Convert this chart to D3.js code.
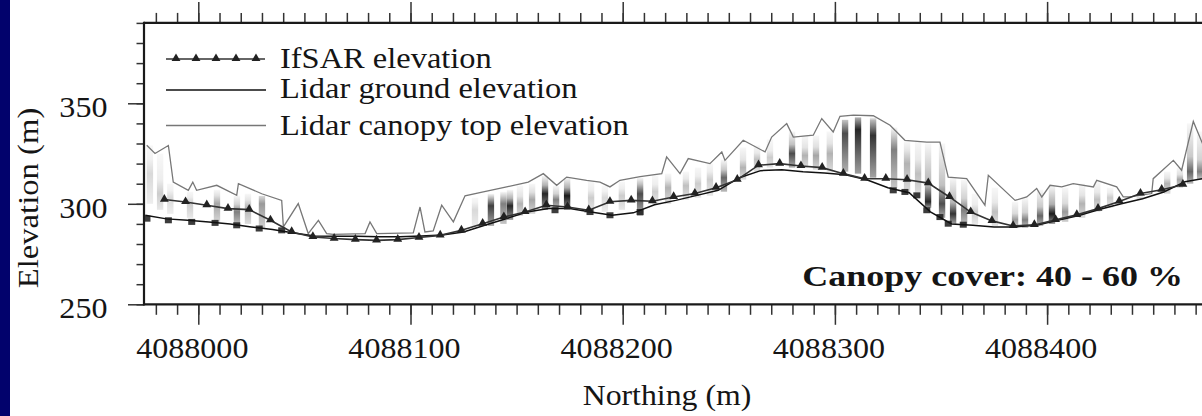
<!DOCTYPE html>
<html>
<head>
<meta charset="utf-8">
<script src="https://cdn.jsdelivr.net/npm/d3@7"></script>
<style>
  body { margin: 0; background: #fff; }
  svg { display: block; }
  text { font-family: "Liberation Serif", "Times New Roman", serif; fill: #151515; }
</style>
</head>
<body>
<svg id="chart" width="1202" height="416"></svg>
<script>
// IfSAR elevation, one sample every 10 m
var ifsarN = [4087984, 4087994, 4088004, 4088014, 4088024, 4088034, 4088044, 4088054, 4088064, 4088074,
  4088084, 4088094, 4088104, 4088114, 4088124, 4088134, 4088144, 4088154, 4088164, 4088174,
  4088184, 4088194, 4088204, 4088214, 4088224, 4088234, 4088244, 4088254, 4088264, 4088274,
  4088284, 4088294, 4088304, 4088314, 4088324, 4088334, 4088344, 4088354, 4088364, 4088374,
  4088384, 4088394, 4088404, 4088414, 4088424, 4088434, 4088444, 4088454, 4088464]
var ifsarZ = [302.1, 300.9, 299.3, 297.6, 297.1, 291.8, 286, 283.5, 282.7, 282.2,
  281.8, 282.2, 283.2, 284.3, 286.8, 290.1, 293.4, 295.9, 299.3, 298.4,
  296.8, 301, 301.7, 301.3, 303.4, 305.1, 308, 312, 319.2, 320,
  318.8, 318, 315, 312.5, 312.5, 312, 310.3, 303.4, 295.9, 291.5,
  289, 289.5, 292, 294.5, 297.6, 301.2, 305.1, 307, 309.5]

// Lidar ground elevation
var groundN = [4087975, 4087985, 4087995, 4088005, 4088015, 4088025, 4088035, 4088045, 4088055, 4088065,
  4088075, 4088085, 4088095, 4088105, 4088115, 4088125, 4088135, 4088145, 4088155, 4088165,
  4088175, 4088185, 4088195, 4088205, 4088215, 4088225, 4088235, 4088245, 4088255, 4088265,
  4088275, 4088285, 4088295, 4088305, 4088315, 4088325, 4088335, 4088345, 4088355, 4088365,
  4088375, 4088385, 4088395, 4088405, 4088415, 4088425, 4088435, 4088445, 4088455, 4088465, 4088475]
var groundZ = [294.3, 292.5, 291.8, 291, 290, 288.5, 287.2, 285.5, 284, 283.8,
  283.8, 283.6, 283.6, 284, 284.5, 286, 289.3, 292.6, 295.9, 297.6,
  297.6, 295.9, 294.3, 295.5, 299.5, 301.7, 304.2, 306.7, 313, 316.5,
  317, 316, 315.3, 314.5, 312, 308, 305.5, 296, 290, 289.3,
  288.5, 288.5, 289.3, 291.8, 294.2, 297.3, 300, 302.5, 305.9, 311, 312.8]

// Lidar canopy top elevation (vertices)
var canopyN = [4087975.7, 4087979.6, 4087985.9, 4087988.2, 4087995.3, 4087997.4, 4087999.2, 4088008.7, 4088018.1, 4088018.9,
  4088029.9, 4088039.3, 4088040.1, 4088047.1, 4088051.8, 4088056.6, 4088060.5, 4088063.6, 4088078.6, 4088080.9,
  4088084.1, 4088101.3, 4088104.5, 4088106.8, 4088110.7, 4088114.7, 4088120.2, 4088125.7, 4088134.3, 4088145.3,
  4088155.5, 4088162.6, 4088168.9, 4088173.6, 4088183, 4088189.3, 4088194, 4088198.7, 4088208.2, 4088218.4,
  4088220.7, 4088227, 4088230.9, 4088241.1, 4088246.7, 4088248.2, 4088256.8, 4088267.1, 4088270.2, 4088277.3,
  4088280.4, 4088289.8, 4088293.8, 4088299.2, 4088302.4, 4088308.7, 4088318.1, 4088326, 4088333, 4088343.3,
  4088349.5, 4088353.4, 4088362.1, 4088370.7, 4088372.3, 4088384.9, 4088390.4, 4088395.1, 4088397.5, 4088401.4,
  4088406.9, 4088412.3, 4088421.8, 4088423.4, 4088432.8, 4088435.9, 4088439.1, 4088449.3, 4088450, 4088459.5,
  4088463.4, 4088468.9, 4088474]
var canopyZ = [329.1, 325, 329, 310.8, 306.7, 310.8, 306.7, 309.2, 304.2, 310,
  305, 301.7, 288.5, 300.1, 285.2, 291.8, 285.2, 284.8, 285.2, 291,
  285.2, 285.5, 298.4, 286, 286.5, 299.3, 291, 304, 305.9, 308.4,
  310.8, 315, 309.2, 313.3, 311.7, 310.8, 308.4, 311.7, 313.5, 315,
  323.3, 315, 322.5, 320, 325.8, 321.6, 331.6, 325.8, 333.2, 339.9,
  333.2, 334.1, 342.4, 335.7, 343.5, 344.1, 343.8, 339.1, 331.6, 330.7,
  330.7, 313.3, 312.5, 299.3, 314.2, 301.7, 303.4, 307.6, 303.4, 309.2,
  308.4, 310, 308.4, 311.7, 308.4, 303.4, 303.4, 305.1, 312.5, 321.6,
  316.7, 341, 328]

// canopy return density columns: centre, top, bottom, darkest level, darkness
var stripeN = [4087977.2, 4087982, 4087986.8, 4087996.1, 4088008.8, 4088018.2, 4088023.4, 4088030, 4088130.4, 4088137.9,
  4088143.8, 4088146.9, 4088151.6, 4088157.3, 4088163.4, 4088168.6, 4088173.8, 4088185.1, 4088191.6, 4088199.6,
  4088208.2, 4088215.3, 4088221.4, 4088229.8, 4088235.5, 4088241.1, 4088247.7, 4088256.7, 4088263.3, 4088269.4,
  4088279.8, 4088285.9, 4088291.1, 4088297.6, 4088304.8, 4088310.9, 4088318, 4088327.9, 4088334, 4088339.2,
  4088343.9, 4088350.5, 4088355.7, 4088360.9, 4088366, 4088375.4, 4088384.9, 4088389.6, 4088396.7, 4088402.3,
  4088408.5, 4088416.5, 4088423.6, 4088429.7, 4088434.3, 4088443.7, 4088456.6, 4088462.6, 4088467.4, 4088472.1]
var stripeTop = [329, 325, 310, 306, 307, 304, 305, 304, 303, 305,
  306, 307, 309, 310, 314, 309, 313, 311, 309, 311,
  313, 314, 315, 316, 318, 320, 322, 328, 329, 332,
  336, 334, 334, 336, 342, 343, 343, 338, 331, 331,
  330, 330, 313, 312, 305, 308, 301, 303, 307, 309,
  308, 310, 311, 308, 303, 305, 316, 318, 340, 336]
var stripeBot = [300, 297, 295, 293, 291, 289, 290, 288, 288, 289,
  290, 292, 294, 295, 297, 297, 297, 296, 296, 297,
  294, 300, 300, 302, 303, 304, 306, 312, 316, 318,
  318, 318, 317, 316, 316, 315, 313, 308, 305, 303,
  298, 293, 290, 289, 290, 289, 288, 288, 289, 290,
  291, 293, 296, 298, 300, 302, 305, 308, 310, 312]
var stripePeak = [315, 305, 303, 300, 300, 296, 298, 300, 297, 299,
  300, 299, 300, 302, 305, 302, 304, 303, 303, 304,
  305, 306, 308, 309, 310, 312, 313, 318, 322, 323,
  325, 324, 324, 325, 335, 337, 334, 327, 320, 315,
  301, 300, 295, 297, 296, 296, 292, 292, 294, 295,
  296, 300, 302, 303, 301, 303, 310, 312, 316, 316]
var stripeDark = [0.15, 0.2, 0.15, 0.2, 0.35, 0.5, 0.3, 0.4, 0.15, 0.75,
  0.5, 0.85, 0.3, 0.35, 0.85, 0.5, 0.9, 0.2, 0.15, 0.2,
  0.7, 0.2, 0.3, 0.25, 0.2, 0.2, 0.6, 0.3, 0.25, 0.2,
  0.7, 0.3, 0.35, 0.3, 0.7, 0.85, 0.8, 0.5, 0.3, 0.25,
  0.85, 0.7, 0.8, 0.5, 0.2, 0.25, 0.4, 0.5, 0.6, 0.9,
  0.4, 0.3, 0.25, 0.2, 0.15, 0.15, 0.3, 0.35, 0.6, 0.5]

// dark ground-return cells
var hitN = [4087975.8, 4087985.9, 4087996.9, 4088007.9, 4088018.1, 4088028.7, 4088039.3, 4088168.1, 4088184.6, 4088194,
  4088208.2, 4088327.5, 4088333, 4088338.6, 4088343.3, 4088349.5, 4088353.4, 4088360.5]
var hitZ = [292.6, 291.8, 291, 290.5, 289.3, 287.7, 286.8, 296.8, 295.9, 294.3,
  295.9, 306.7, 305.9, 304.2, 296.8, 293.4, 290.1, 289.6]

var xMajorTicks = [4088000, 4088100, 4088200, 4088300, 4088400]
var yMajorTicks = [250, 300, 350]
var legendLabels = ['IfSAR elevation', 'Lidar ground elevation', 'Lidar canopy top elevation']
var noteText = 'Canopy cover: 40 - 60 %'

var svg = d3.select('#chart')
var plot = { left: 144, top: 22.9, bottom: 304.3, right: 1218 }

var x = d3.scaleLinear().domain([4088000, 4088400]).range([198.3, 1047.1])
var y = d3.scaleLinear().domain([250, 390]).range([304.3, 22.9])

svg.append('rect').attr('width', 1202).attr('height', 416).attr('fill', '#fff')
svg.append('rect').attr('width', 10).attr('height', 416).attr('fill', '#02026c')

var defs = svg.append('defs')
defs.append('clipPath').attr('id', 'clip')
  .append('rect')
  .attr('x', plot.left).attr('y', plot.top)
  .attr('width', plot.right - plot.left).attr('height', plot.bottom - plot.top)

var gData = svg.append('g').attr('clip-path', 'url(#clip)')

// density columns
var stripes = stripeN.map(function (n, i) {
  return { n: n, top: stripeTop[i], bot: stripeBot[i], peak: stripePeak[i], dark: stripeDark[i] }
})
var colW = x(4088003) - x(4088000)

stripes.forEach(function (d, i) {
  var grad = defs.append('linearGradient')
    .attr('id', 'sg' + i)
    .attr('x1', 0).attr('y1', 0).attr('x2', 0).attr('y2', 1)
  var f = (d.top - d.peak) / (d.top - d.bot)
  grad.append('stop').attr('offset', 0).attr('stop-color', '#000').attr('stop-opacity', 0.03)
  grad.append('stop').attr('offset', Math.max(0, f - 0.25)).attr('stop-color', '#000').attr('stop-opacity', d.dark * 0.35)
  grad.append('stop').attr('offset', f).attr('stop-color', '#000').attr('stop-opacity', d.dark)
  grad.append('stop').attr('offset', 1).attr('stop-color', '#000').attr('stop-opacity', d.dark * 0.45)
})

gData.selectAll('rect.stripe')
  .data(stripes).enter().append('rect')
  .attr('class', 'stripe')
  .attr('x', function (d) { return x(d.n) - colW / 2 })
  .attr('y', function (d) { return y(d.top) })
  .attr('width', colW)
  .attr('height', function (d) { return y(d.bot) - y(d.top) })
  .attr('fill', function (d, i) { return 'url(#sg' + i + ')' })

var line = d3.line()
  .x(function (d) { return x(d[0]) })
  .y(function (d) { return y(d[1]) })

gData.append('path')
  .datum(canopyN.map(function (n, i) { return [n, canopyZ[i]] }))
  .attr('fill', 'none')
  .attr('stroke', '#777')
  .attr('stroke-width', 1.3)
  .attr('d', line)

gData.selectAll('rect.hit')
  .data(hitN.map(function (n, i) { return [n, hitZ[i]] }))
  .enter().append('rect')
  .attr('class', 'hit')
  .attr('x', function (d) { return x(d[0]) - 3.5 })
  .attr('y', function (d) { return y(d[1]) - 3 })
  .attr('width', 7).attr('height', 6)
  .attr('fill', '#1a1a1a')
  .attr('opacity', 0.85)

gData.append('path')
  .datum(groundN.map(function (n, i) { return [n, groundZ[i]] }))
  .attr('fill', 'none')
  .attr('stroke', '#111')
  .attr('stroke-width', 1.5)
  .attr('d', line)

var ifsar = ifsarN.map(function (n, i) { return [n, ifsarZ[i]] })
gData.append('path')
  .datum(ifsar)
  .attr('fill', 'none')
  .attr('stroke', '#333')
  .attr('stroke-width', 1.6)
  .attr('d', line)

var tri = d3.symbol().type(d3.symbolTriangle).size(34)
gData.selectAll('path.tri')
  .data(ifsar).enter().append('path')
  .attr('class', 'tri')
  .attr('d', tri)
  .attr('fill', '#222')
  .attr('transform', function (d) { return 'translate(' + x(d[0]) + ',' + (y(d[1]) - 0.5) + ')' })

// axes: ticks only, frame drawn separately
function minorTicks (scale, step) {
  var lo = Math.ceil(scale.invert(scale === x ? plot.left : plot.bottom) / step) * step
  var hi = scale.invert(scale === x ? 1202 : plot.top)
  return d3.range(lo, hi + 0.01, step)
}

function styleTicks (g) {
  g.select('.domain').remove()
  g.selectAll('line').attr('stroke', '#333').attr('stroke-width', 1.5)
  g.selectAll('text').remove()
}

var xMinor = minorTicks(x, 10)
var yMinor = minorTicks(y, 10)

svg.append('g').attr('transform', 'translate(0,' + plot.bottom + ')')
  .call(d3.axisBottom(x).tickValues(xMinor).tickSize(10.5)).call(styleTicks)
svg.append('g').attr('transform', 'translate(0,' + plot.bottom + ')')
  .call(d3.axisBottom(x).tickValues(xMajorTicks).tickSize(20.5)).call(styleTicks)
svg.append('g').attr('transform', 'translate(0,' + plot.top + ')')
  .call(d3.axisTop(x).tickValues(xMinor).tickSize(10)).call(styleTicks)
svg.append('g').attr('transform', 'translate(0,' + plot.top + ')')
  .call(d3.axisTop(x).tickValues(xMajorTicks).tickSize(21)).call(styleTicks)
svg.append('g').attr('transform', 'translate(' + plot.left + ',0)')
  .call(d3.axisLeft(y).tickValues(yMinor).tickSize(7.5)).call(styleTicks)
svg.append('g').attr('transform', 'translate(' + plot.left + ',0)')
  .call(d3.axisLeft(y).tickValues(yMajorTicks).tickSize(16)).call(styleTicks)

// frame
var frame = svg.append('g').attr('stroke', '#1a1a1a').attr('stroke-width', 2.2)
frame.append('line').attr('x1', plot.left).attr('x2', plot.right).attr('y1', plot.top).attr('y2', plot.top)
frame.append('line').attr('x1', plot.left).attr('x2', plot.right).attr('y1', plot.bottom).attr('y2', plot.bottom)
frame.append('line').attr('x1', plot.left).attr('x2', plot.left).attr('y1', plot.top - 1.1).attr('y2', plot.bottom + 1.1)

function label (txt, tx, ty, size, sx, anchor, rot, weight) {
  return svg.append('text')
    .attr('transform', 'translate(' + tx + ',' + ty + ')' + (rot ? ' rotate(' + rot + ')' : '') + ' scale(' + sx + ',1)')
    .attr('font-size', size)
    .attr('font-weight', weight || 'normal')
    .attr('text-anchor', anchor)
    .text(txt)
}

xMajorTicks.forEach(function (v) { label(String(v), x(v) - 6, 358, 30, 1.07, 'middle') })
yMajorTicks.forEach(function (v) { label(String(v), 107.5, y(v) + 14, 30, 1.07, 'end') })

label('Northing (m)', 667, 405, 30, 1.06, 'middle')
label('Elevation (m)', 38, 198, 30, 1.09, 'middle', -90)

// legend
var legendRows = [59, 90, 125.5]
var legendText = [67.7, 98.3, 135]
var lg = svg.append('g')
lg.append('line').attr('x1', 166).attr('x2', 265).attr('y1', legendRows[0]).attr('y2', legendRows[0])
  .attr('stroke', '#333').attr('stroke-width', 1.6)
d3.range(5).forEach(function (k) {
  lg.append('path').attr('d', tri).attr('fill', '#222')
    .attr('transform', 'translate(' + (176 + k * 20) + ',' + (legendRows[0] - 0.5) + ')')
})
lg.append('line').attr('x1', 166).attr('x2', 266).attr('y1', legendRows[1]).attr('y2', legendRows[1])
  .attr('stroke', '#111').attr('stroke-width', 1.5)
lg.append('line').attr('x1', 166).attr('x2', 266).attr('y1', legendRows[2]).attr('y2', legendRows[2])
  .attr('stroke', '#777').attr('stroke-width', 1.3)
legendLabels.forEach(function (t, i) { label(t, 280, legendText[i], 29, 1.12, 'start') })

label(noteText, 1183, 286, 30, 1.2, 'end', 0, 'bold')
</script>
</body>
</html>
